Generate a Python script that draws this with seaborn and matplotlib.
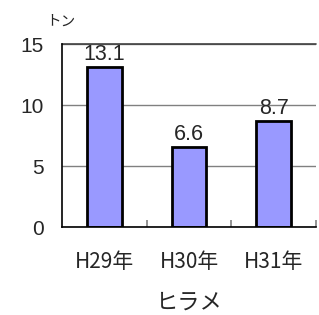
import matplotlib
matplotlib.use('Agg')
import matplotlib.pyplot as plt
import seaborn as sns
import pandas as pd
from matplotlib.ticker import FixedLocator

sns.set_theme(style="white")
plt.rcParams['font.family'] = ['Noto Sans CJK JP', 'DejaVu Sans']

# data
years = ['H29年', 'H30年', 'H31年']
catch = [13.1, 6.6, 8.7]
yticks = [0, 5, 10, 15]

df = pd.DataFrame({'year': years, 'catch': catch})

fig = plt.figure(figsize=(3.19, 3.15), dpi=100, facecolor='white')
ax = fig.add_axes([0.194, 0.279, 0.797, 0.581])

sns.barplot(data=df, x='year', y='catch', color='#9999FF', saturation=1,
            width=0.41, edgecolor='black', linewidth=2, ax=ax, zorder=3)

ax.set_ylim(0, 15)
ax.set_xlim(-0.5, 2.5)
ax.set_yticks(yticks)
ax.yaxis.grid(True, color='#808080', linewidth=1)
ax.set_axisbelow(True)
ax.axhline(15, color='#404040', linewidth=1.2, clip_on=False, zorder=2)

for s in ['top', 'right']:
    ax.spines[s].set_visible(False)
ax.spines['left'].set_color('black')
ax.spines['bottom'].set_color('black')
ax.spines['left'].set_linewidth(1.2)
ax.spines['bottom'].set_linewidth(1.2)
ax.spines['bottom'].set_zorder(4)

ax.tick_params(axis='y', length=0, pad=13, labelsize=15)
ax.tick_params(axis='x', which='major', length=0, pad=17, labelsize=15)
ax.xaxis.set_minor_locator(FixedLocator([0.5, 1.5, 2.5]))
ax.tick_params(axis='x', which='minor', direction='in', length=5,
               color='#808080', width=1.2, bottom=True)

for i, v in enumerate(catch):
    ax.text(i, v + 0.15, f'{v}', ha='center', va='bottom', fontsize=15.5,
            family=['Liberation Sans', 'DejaVu Sans'])

ax.set_xlabel('ヒラメ', fontsize=16, labelpad=13)
ax.set_ylabel('')
fig.text(46 / 319, 1 - 22 / 315, 'トン', fontsize=10.5, va='center', ha='left')

for lab in ax.get_yticklabels():
    lab.set_family(['Liberation Sans', 'DejaVu Sans'])

fig.savefig('out.png', dpi=100, facecolor='white')
